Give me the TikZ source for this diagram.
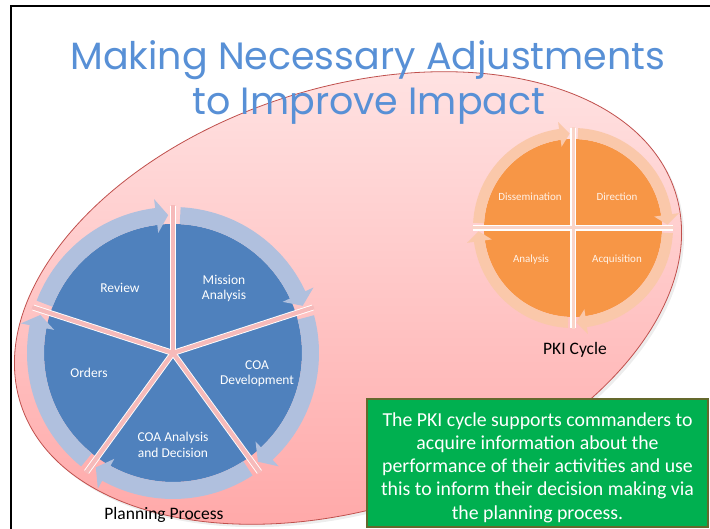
\documentclass[tikz,border=0pt]{standalone}
\usepackage{fontspec}
\setmainfont{Carlito}
\newfontfamily\titlefont{Poppins}
\definecolor{titleblue}{RGB}{88,144,214}
\definecolor{pieblue}{RGB}{79,129,189}
\definecolor{ringblue}{RGB}{176,192,222}
\definecolor{pieorange}{RGB}{247,150,70}
\definecolor{ringorange}{RGB}{250,200,170}
\definecolor{gappink}{RGB}{246,186,186}
\definecolor{gaporange}{RGB}{250,212,200}
\definecolor{ellred}{RGB}{192,80,77}
\definecolor{elltop}{RGB}{255,230,230}
\definecolor{ellbot}{RGB}{255,165,165}
\definecolor{boxgreen}{RGB}{0,176,80}
\definecolor{boxedge}{RGB}{100,105,45}
\definecolor{pkitext}{RGB}{255,242,232}
\tikzset{
  titletext/.style={font=\titlefont\fontsize{38}{42}\selectfont, text=titleblue, anchor=base, inner sep=0},
  planlabel/.style={font=\fontsize{13.5}{15.5}\selectfont, text=white, align=center, inner sep=0},
  pkilabel/.style={font=\fontsize{11}{12}\selectfont, text=pkitext, align=center, inner sep=0},
  caption/.style={font=\fontsize{17.5}{20}\selectfont, text=black, inner sep=0},
  notebox/.style={draw=boxedge, line width=1.5, fill=boxgreen, minimum width=341, minimum height=128, inner sep=0},
  notetext/.style={text=white, align=center, font=\fontsize{19.8}{23.2}\selectfont, inner sep=0},
}
\begin{document}
\begin{tikzpicture}[x=1pt,y=1pt]
\useasboundingbox (0,0) rectangle (710,529);
\fill[white] (0,0) rectangle (710,529);
% frame
\draw[line width=2, black] (11,0) -- (11,523) -- (711,523);
% ellipse
\begin{scope}[shift={(348,231)}, rotate=18]
  \fill[black, opacity=0.07] (1.5,-3.5) ellipse [x radius=344, y radius=210];
  \shade[top color=elltop, bottom color=ellbot] (0,0) ellipse [x radius=344, y radius=210];
  \draw[ellred, line width=0.8] (0,0) ellipse [x radius=344, y radius=210];
\end{scope}
% title
\node[titletext] (t1) at (368,459) {Making Necessary Adjustments};
\node[titletext] (t2) at (369,414) {to Improve Impact};
% planning process cycle
\begin{scope}[shift={(173,176)}]
  \fill[pieblue] (0,0) circle [radius=129];
  \foreach \a/\b/\t in {159/97/92, 87/25/20, 15/-47/-52, -57/-119/-124, -129/-191/-196}
    \fill[ringblue] (\a:146) arc[start angle=\a, end angle=\b, radius=146] -- (\b:155) -- (\t:138) -- (\b:121) -- (\b:129) arc[start angle=\b, end angle=\a, radius=129] -- cycle;
  \foreach \g in {90,18,-54,-126,162} \draw[white, line width=6] (0,0) -- (\g:147);
  \foreach \g in {90,18,-54,-126,162} \draw[gappink, line width=4.2] (0,0) -- (\g:148);
\end{scope}
\node[planlabel] (ma) at (224,240.5) {Mission\\Analysis};
\node[planlabel] (rv) at (120,241) {Review};
\node[planlabel] (or) at (89,156) {Orders};
\node[planlabel] (cd) at (257,155.5) {COA\\Development};
\node[planlabel] (ca) at (173,84) {COA Analysis\\and Decision};
\node[caption] (pp) at (164,14) {Planning Process};
% PKI cycle
\begin{scope}[shift={(573,301)}]
  \fill[pieorange] (0,0) circle [radius=89];
  \foreach \a/\b/\t in {177/98/92, 87/8/2, -3/-82/-88, -93/-172/-178}
    \fill[ringorange] (\a:100) arc[start angle=\a, end angle=\b, radius=100] -- (\b:107) -- (\t:94.5) -- (\b:82) -- (\b:89) arc[start angle=\b, end angle=\a, radius=89] -- cycle;
  \foreach \g in {90,0,-90,180} \draw[white, line width=6.5] (0,0) -- (\g:100);
  \foreach \g in {90,0,-90,180} \draw[gaporange, line width=3] (0,0) -- (\g:101);
\end{scope}
\node[pkilabel] (ds) at (530,332) {Dissemination};
\node[pkilabel] (dr) at (617,332) {Direction};
\node[pkilabel] (an) at (531,269) {Analysis};
\node[pkilabel] (aq) at (617,269) {Acquisition};
\node[caption] (pk) at (575,179) {PKI Cycle};
% note box
\node[notebox] (nb) at (537.5,66) {};
\node[notetext] (nt) at (537.5,61.5) {The PKI cycle supports commanders to\\acquire information about the\\performance of their activities and use\\this to inform their decision making via\\the planning process.};
\end{tikzpicture}
\end{document}
